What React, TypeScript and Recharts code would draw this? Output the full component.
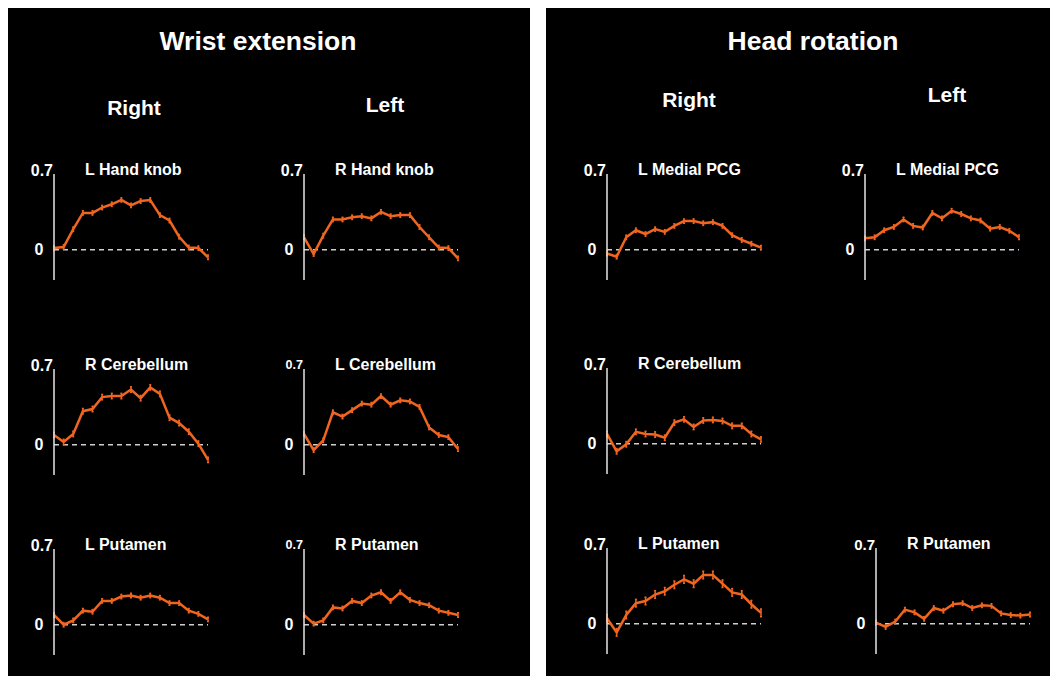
import { LineChart, Line, XAxis, YAxis, ReferenceLine, ErrorBar } from 'recharts';

// ── Data ─────────────────────────────────────────────────────

// 17 time bins per trace
const TIME_BINS = [0, 1, 2, 3, 4, 5, 6, 7, 8, 9, 10, 11, 12, 13, 14, 15, 16];
const Y_TICKS = [0, 0.7];
const Y_DOMAIN: [number, number] = [-0.28, 0.7];

// Wrist extension, right hand
const wristRightHandKnob = [0.015, 0.025, 0.19, 0.34, 0.34, 0.39, 0.42, 0.46, 0.41, 0.45, 0.46, 0.32, 0.27, 0.12, 0.02, 0.015, -0.07];
const wristRightCerebellum = [0.09, 0.025, 0.1, 0.31, 0.33, 0.44, 0.45, 0.45, 0.51, 0.43, 0.53, 0.47, 0.25, 0.2, 0.12, 0.01, -0.14];
const wristRightPutamen = [0.09, 0.0, 0.04, 0.13, 0.12, 0.22, 0.22, 0.26, 0.27, 0.25, 0.27, 0.25, 0.2, 0.2, 0.13, 0.1, 0.05];

// Wrist extension, left hand
const wristLeftHandKnob = [0.115, -0.04, 0.13, 0.28, 0.28, 0.3, 0.31, 0.29, 0.35, 0.31, 0.32, 0.32, 0.21, 0.115, 0.02, 0.015, -0.08];
const wristLeftCerebellum = [0.1, -0.05, 0.04, 0.3, 0.26, 0.32, 0.38, 0.37, 0.45, 0.37, 0.41, 0.4, 0.35, 0.16, 0.09, 0.07, -0.04];
const wristLeftPutamen = [0.09, 0.01, 0.04, 0.16, 0.15, 0.22, 0.2, 0.27, 0.3, 0.22, 0.3, 0.23, 0.2, 0.18, 0.13, 0.11, 0.09];

// Head rotation, right
const headRightMedialPcg = [-0.035, -0.065, 0.115, 0.18, 0.145, 0.19, 0.165, 0.22, 0.265, 0.265, 0.245, 0.255, 0.22, 0.135, 0.09, 0.055, 0.02];
const headRightCerebellum = [0.09, -0.07, -0.005, 0.11, 0.09, 0.085, 0.055, 0.195, 0.225, 0.155, 0.215, 0.22, 0.21, 0.165, 0.165, 0.09, 0.04];
const headRightPutamen = [0.05, -0.08, 0.08, 0.19, 0.21, 0.27, 0.3, 0.36, 0.41, 0.37, 0.45, 0.45, 0.37, 0.29, 0.27, 0.18, 0.1];

// Head rotation, left
const headLeftMedialPcg = [0.105, 0.115, 0.18, 0.21, 0.28, 0.22, 0.205, 0.34, 0.29, 0.36, 0.33, 0.29, 0.27, 0.195, 0.21, 0.175, 0.115];
const headLeftPutamen = [0.01, -0.03, 0.02, 0.13, 0.105, 0.045, 0.145, 0.12, 0.18, 0.19, 0.145, 0.17, 0.165, 0.095, 0.08, 0.075, 0.085];

// ── Styling ──────────────────────────────────────────────────

const ORANGE = '#f0651f';
const FONT = '"Liberation Sans", Arial, sans-serif';
const LEFT_GUTTER = 40;
const TOP_GUTTER = 20;
const PLOT_W = 154;
const PLOT_H = 106;

interface TraceProps {
  title: string;
  values: number[];
  sem: number;
  axisX: number;
  topY: number;
  tickSize?: number;
}

function Trace({ title, values, sem, axisX, topY, tickSize = 16 }: TraceProps) {
  const data = TIME_BINS.map((t, i) => ({ t, v: values[i], err: sem }));

  const renderTick = (p: any) => {
    const isTop = p.payload.value > 0;
    return (
      <text
        x={isTop ? LEFT_GUTTER - 1 : LEFT_GUTTER - 15}
        y={isTop ? p.y - 4 : p.y}
        textAnchor={isTop ? 'end' : 'middle'}
        dominantBaseline="central"
        fill="#fff"
        fontSize={isTop ? tickSize : 16}
        fontWeight="bold"
        fontFamily={FONT}
      >
        {isTop ? '0.7' : '0'}
      </text>
    );
  };

  return (
    <>
      <div
        style={{
          position: 'absolute', left: axisX + 31, top: topY - 14, height: 20, lineHeight: '20px',
          color: '#fff', fontFamily: FONT, fontWeight: 'bold', fontSize: 16, whiteSpace: 'nowrap',
        }}
      >
        {title}
      </div>
      <div style={{ position: 'absolute', left: axisX - LEFT_GUTTER, top: topY - TOP_GUTTER }}>
        <LineChart
          width={LEFT_GUTTER + PLOT_W + 6}
          height={TOP_GUTTER + PLOT_H + 4}
          data={data}
          margin={{ top: TOP_GUTTER, right: 6, bottom: 4, left: 0 }}
        >
          <XAxis type="number" dataKey="t" domain={[0, 16]} hide />
          <YAxis
            width={LEFT_GUTTER}
            domain={Y_DOMAIN}
            ticks={Y_TICKS}
            allowDataOverflow
            tickLine={false}
            axisLine={{ stroke: '#e6e6e6', strokeWidth: 1.5 }}
            tick={renderTick}
          />
          <ReferenceLine y={0} stroke="#cfcfcf" strokeWidth={1.5} strokeDasharray="5 4" />
          <Line
            type="linear"
            dataKey="v"
            stroke={ORANGE}
            strokeWidth={2.5}
            dot={false}
            isAnimationActive={false}
          >
            <ErrorBar dataKey="err" direction="y" width={1} stroke={ORANGE} strokeWidth={1.5} />
          </Line>
        </LineChart>
      </div>
    </>
  );
}

function Heading({ text, cx, cy, size }: { text: string; cx: number; cy: number; size: number }) {
  return (
    <div
      style={{
        position: 'absolute', left: cx - 150, top: cy - size * 0.7, width: 300, textAlign: 'center',
        lineHeight: `${size * 1.4}px`, color: '#fff', fontFamily: FONT, fontWeight: 'bold', fontSize: size,
      }}
    >
      {text}
    </div>
  );
}

export default function App() {
  return (
    <div style={{ position: 'absolute', left: 0, top: 0, width: 1055, height: 676, background: '#fff', overflow: 'hidden' }}>
      <div style={{ position: 'absolute', left: 8, top: 8, width: 522, height: 668, background: '#000' }} />
      <div style={{ position: 'absolute', left: 546, top: 8, width: 504, height: 668, background: '#000' }} />

      <Heading text="Wrist extension" cx={258} cy={42} size={26.5} />
      <Heading text="Right" cx={134} cy={108} size={21} />
      <Heading text="Left" cx={385} cy={105} size={21} />
      <Heading text="Head rotation" cx={813} cy={42} size={26.5} />
      <Heading text="Right" cx={689} cy={100} size={21} />
      <Heading text="Left" cx={947} cy={95} size={21} />

      <Trace title="L Hand knob" values={wristRightHandKnob} sem={0.02} axisX={54} topY={174} />
      <Trace title="R Cerebellum" values={wristRightCerebellum} sem={0.025} axisX={54} topY={369} />
      <Trace title="L Putamen" values={wristRightPutamen} sem={0.02} axisX={54} topY={549} />

      <Trace title="R Hand knob" values={wristLeftHandKnob} sem={0.02} axisX={304} topY={174} />
      <Trace title="L Cerebellum" values={wristLeftCerebellum} sem={0.02} axisX={304} topY={369} tickSize={12.5} />
      <Trace title="R Putamen" values={wristLeftPutamen} sem={0.02} axisX={304} topY={549} tickSize={12.5} />

      <Trace title="L Medial PCG" values={headRightMedialPcg} sem={0.02} axisX={607} topY={174} />
      <Trace title="R Cerebellum" values={headRightCerebellum} sem={0.025} axisX={607} topY={368} />
      <Trace title="L Putamen" values={headRightPutamen} sem={0.035} axisX={607} topY={548} />

      <Trace title="L Medial PCG" values={headLeftMedialPcg} sem={0.02} axisX={865} topY={174} />
      <Trace title="R Putamen" values={headLeftPutamen} sem={0.02} axisX={876} topY={548} tickSize={15} />
    </div>
  );
}
